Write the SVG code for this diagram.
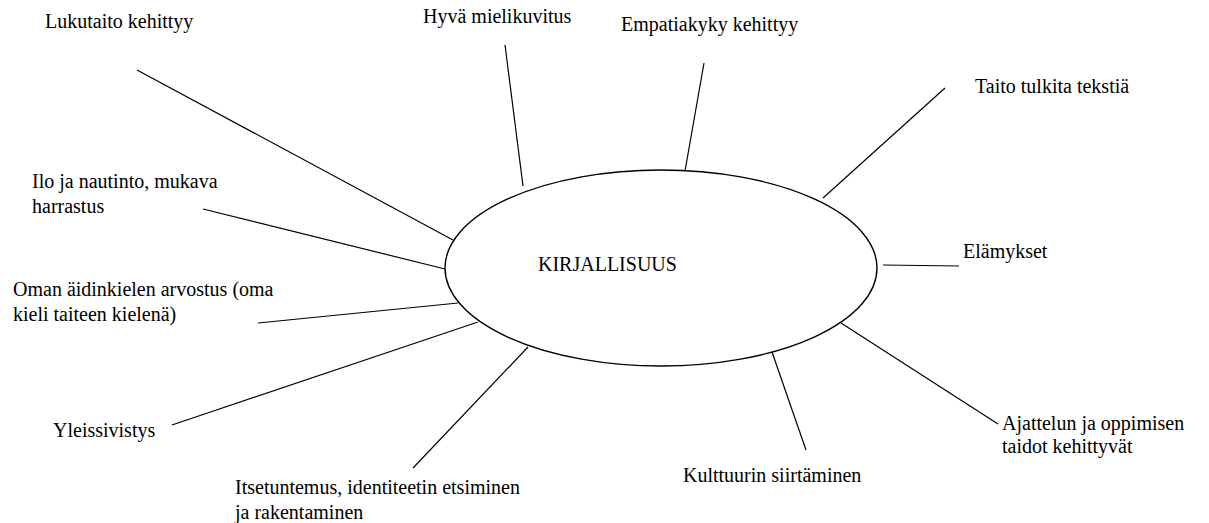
<svg xmlns="http://www.w3.org/2000/svg" width="1209" height="523" viewBox="0 0 1209 523">
<style>
.t{font-family:"Liberation Serif","Times New Roman",serif;font-size:20px;fill:#000}
.c line{stroke:#000;stroke-width:1.2;fill:none}
.hub{fill:#fff;stroke:#000;stroke-width:1.4}
</style>
<rect width="1209" height="523" fill="#fff"/>
<g class="c" id="connectors">
<line x1="137" y1="70" x2="453" y2="240"/>
<line x1="203" y1="209" x2="445" y2="269"/>
<line x1="258" y1="323" x2="458" y2="303"/>
<line x1="172" y1="425" x2="478" y2="322"/>
<line x1="413" y1="468" x2="528" y2="347"/>
<line x1="806" y1="450" x2="772" y2="352"/>
<line x1="841" y1="323" x2="998" y2="424"/>
<line x1="883" y1="265" x2="959" y2="266"/>
<line x1="823" y1="198" x2="945" y2="88"/>
<line x1="685" y1="171" x2="704" y2="63"/>
<line x1="505" y1="45" x2="523" y2="186"/>
</g>
<g id="hub">
<ellipse class="hub" cx="661" cy="268" rx="216" ry="98"/>
<text class="t" x="538" y="271">KIRJALLISUUS</text>
</g>
<g id="n-lukutaito"><text class="t" x="45" y="28">Lukutaito kehittyy</text></g>
<g id="n-hyva"><text class="t" x="423" y="23">Hyvä mielikuvitus</text></g>
<g id="n-empatia"><text class="t" x="621" y="31">Empatiakyky kehittyy</text></g>
<g id="n-taito"><text class="t" x="975" y="93">Taito tulkita tekstiä</text></g>
<g id="n-elamykset"><text class="t" x="963" y="258">Elämykset</text></g>
<g id="n-ilo"><text class="t" x="32" y="188">Ilo ja nautinto, mukava</text><text class="t" x="32" y="213">harrastus</text></g>
<g id="n-oman"><text class="t" x="13" y="296">Oman äidinkielen arvostus (oma</text><text class="t" x="13" y="321">kieli taiteen kielenä)</text></g>
<g id="n-yleis"><text class="t" x="53" y="437">Yleissivistys</text></g>
<g id="n-itse"><text class="t" x="235" y="494">Itsetuntemus, identiteetin etsiminen</text><text class="t" x="235" y="519">ja rakentaminen</text></g>
<g id="n-kulttuuri"><text class="t" x="683" y="482">Kulttuurin siirtäminen</text></g>
<g id="n-ajattelu"><text class="t" x="1002" y="430">Ajattelun ja oppimisen</text><text class="t" x="1002" y="453">taidot kehittyvät</text></g>
</svg>
